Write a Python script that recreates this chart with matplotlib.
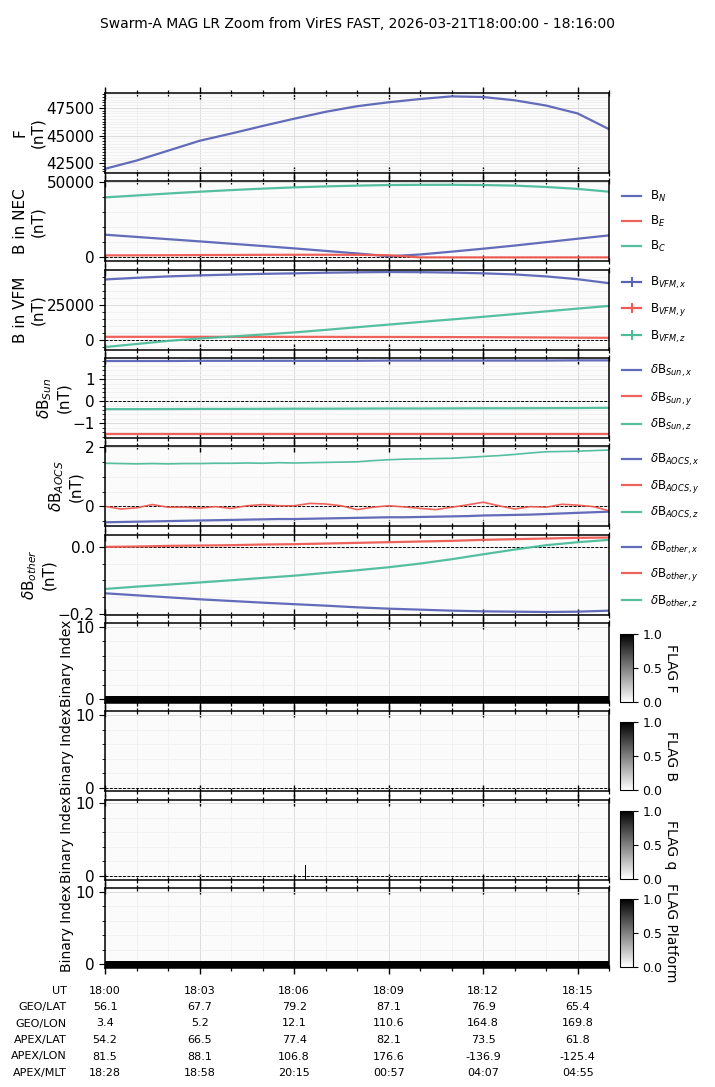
import numpy as np
import matplotlib
matplotlib.use("Agg")
import matplotlib.pyplot as plt
import matplotlib.dates as mdates
from matplotlib.ticker import MultipleLocator
from matplotlib.lines import Line2D
from matplotlib.transforms import blended_transform_factory

DAY = "2026-03-21T"
T0, T1 = "18:00:00", "18:16:00"

# sample times for the smooth series (one per minute)
t_min = ["18:%02d:00" % m for m in range(17)]

F = [41994, 42738, 43631, 44524, 45178, 45863, 46518, 47143, 47649,
     48006, 48300, 48539, 48480, 48184, 47708, 46994, 45565]

B_N = [14797, 13300, 11800, 10313, 8750, 7200, 5605, 3900, 2200,
       300, 1500, 3400, 5381, 7500, 9800, 12100, 14349]
B_E = [900, 950, 1000, 1100, 1150, 1250, 1300, 1300, 1250,
       1000, -450, -450, -450, -450, -450, -450, -450]
B_C = [39908, 41200, 42500, 43719, 44800, 45800, 46634, 47300, 47800,
       48203, 48350, 48380, 48203, 47800, 46900, 45600, 43719]

B_VFM_x = [43032, 44200, 45200, 45916, 46500, 47000, 47359, 47800, 48100,
           48320, 48200, 47900, 47359, 46600, 45200, 43200, 40387]
B_VFM_y = [2404, 2404, 2404, 2404, 2380, 2380, 2380, 2380, 2300,
           2300, 2250, 2200, 2150, 2050, 1950, 1800, 1683]
B_VFM_z = [-4808, -2700, -481, 1202, 2600, 4000, 5529, 7300, 9200,
           11058, 12900, 14700, 16588, 18500, 20434, 22400, 24280]

dB_Sun_x = [1.82, 1.82, 1.82, 1.83, 1.83, 1.83, 1.83, 1.83, 1.83,
            1.84, 1.84, 1.84, 1.84, 1.84, 1.84, 1.85, 1.85]
dB_Sun_y = [-1.47] * 17
dB_Sun_z = [-0.36, -0.36, -0.355, -0.35, -0.35, -0.345, -0.34, -0.34, -0.335,
            -0.33, -0.33, -0.325, -0.32, -0.32, -0.315, -0.31, -0.30]

dB_other_x = [-0.139, -0.145, -0.151, -0.157, -0.162, -0.167, -0.1716, -0.176, -0.181,
              -0.185, -0.188, -0.191, -0.193, -0.194, -0.195, -0.194, -0.191]
dB_other_y = [0.0, 0.001, 0.003, 0.004, 0.005, 0.007, 0.008, 0.010, 0.012,
              0.014, 0.016, 0.018, 0.021, 0.023, 0.025, 0.027, 0.028]
dB_other_z = [-0.126, -0.119, -0.113, -0.1066, -0.100, -0.093, -0.0863, -0.078, -0.070,
              -0.061, -0.050, -0.037, -0.0223, -0.008, 0.005, 0.014, 0.021]

# AOCS series are noisy, read every half minute
t_half = ["18:%02d:%02d" % (s // 60, s % 60) for s in range(0, 961, 30)]
dB_AOCS_x = [-0.54, -0.53, -0.52, -0.51, -0.50, -0.49, -0.48, -0.47, -0.46, -0.45, -0.44,
             -0.43, -0.43, -0.42, -0.41, -0.40, -0.39, -0.38, -0.37, -0.37, -0.36, -0.35,
             -0.34, -0.33, -0.31, -0.30, -0.29, -0.28, -0.26, -0.24, -0.22, -0.20, -0.18]
dB_AOCS_y = [0.00, -0.09, -0.05, 0.06, -0.03, -0.03, -0.06, -0.01, -0.07, 0.02, 0.06,
             0.02, 0.02, 0.10, 0.08, 0.02, -0.11, -0.03, 0.02, -0.02, -0.07, -0.11,
             -0.03, 0.05, 0.14, 0.02, -0.09, -0.01, -0.03, 0.07, 0.04, -0.01, -0.15]
dB_AOCS_z = [1.46, 1.45, 1.44, 1.45, 1.44, 1.45, 1.45, 1.46, 1.46, 1.47, 1.46,
             1.48, 1.47, 1.48, 1.49, 1.50, 1.51, 1.55, 1.58, 1.60, 1.61, 1.62,
             1.63, 1.66, 1.69, 1.72, 1.76, 1.81, 1.85, 1.86, 1.87, 1.89, 1.91]

# flags as piecewise-constant segments: edges and values
flag_F_edges = ["18:00:00", "18:16:00"]
flag_F = [1]
flag_B_edges = ["18:00:00", "18:16:00"]
flag_B = [0]
flag_q_edges = ["18:00:00", "18:06:20", "18:06:21", "18:16:00"]
flag_q = [0, 3, 0]
flag_Pl_edges = ["18:00:00", "18:16:00"]
flag_Pl = [1]

# ephemeris table
tab_rows = ["UT", "GEO/LAT", "GEO/LON", "APEX/LAT", "APEX/LON", "APEX/MLT"]
tab_times = ["18:00:00", "18:03:00", "18:06:00", "18:09:00", "18:12:00", "18:15:00"]
tab_vals = [
    ["18:00", "18:03", "18:06", "18:09", "18:12", "18:15"],
    ["56.1", "67.7", "79.2", "87.1", "76.9", "65.4"],
    ["3.4", "5.2", "12.1", "110.6", "164.8", "169.8"],
    ["54.2", "66.5", "77.4", "82.1", "73.5", "61.8"],
    ["81.5", "88.1", "106.8", "176.6", "-136.9", "-125.4"],
    ["18:28", "18:58", "20:15", "00:57", "04:07", "04:55"],
]

C_X, C_Y, C_Z = "#5a64b6", "#ef5a52", "#4dbc9b"


def tt(lst):
    return np.array([np.datetime64(DAY + s) for s in lst])


plt.rcParams["font.size"] = 11
plt.rcParams["axes.labelpad"] = 1.0
fig = plt.figure(figsize=(7.15, 10.87), dpi=100)
gs = fig.add_gridspec(10, 1, left=0.147, right=0.852, top=0.9144, bottom=0.1095, hspace=0.104)
axs = [fig.add_subplot(gs[i]) for i in range(10)]
fig.suptitle("Swarm-A MAG LR Zoom from VirES FAST, 2026-03-21T18:00:00 - 18:16:00",
             y=0.984, fontsize=10)

tm = tt(t_min)
th = tt(t_half)
lw = 1.6


def legend(ax, labels, handles=None):
    kw = dict(loc="center left", bbox_to_anchor=(1.0, 0.5), frameon=False,
              fontsize=8.5, labelspacing=0.85, handlelength=1.6, borderaxespad=0.7)
    if handles is None:
        ax.legend(**kw)
    else:
        ax.legend(handles, labels, **kw)


# F
ax = axs[0]
ax.plot(tm, F, color=C_X, lw=lw, alpha=0.95)
ax.set_ylabel("F\n(nT)")
ax.set_ylim(41607, 48839)
ax.yaxis.set_major_locator(MultipleLocator(2500))
ax.yaxis.set_minor_locator(MultipleLocator(250))

# NEC
ax = axs[1]
ax.plot(tm, B_N, color=C_X, lw=lw, alpha=0.95, label="B$_N$")
ax.plot(tm, B_E, color=C_Y, lw=lw, alpha=0.95, label="B$_E$")
ax.plot(tm, B_C, color=C_Z, lw=lw, alpha=0.95, label="B$_C$")
ax.set_ylabel("B in NEC\n(nT)")
ax.set_ylim(-3139, 50673)
ax.yaxis.set_major_locator(MultipleLocator(50000))
ax.yaxis.set_minor_locator(MultipleLocator(10000))
legend(ax, None)

# VFM
ax = axs[2]
vfm = [(B_VFM_x, C_X, "B$_{VFM,x}$"), (B_VFM_y, C_Y, "B$_{VFM,y}$"), (B_VFM_z, C_Z, "B$_{VFM,z}$")]
hs = []
for vals, c, lab in vfm:
    ax.plot(tm, vals, color=c, lw=lw, alpha=0.95)
    hs.append(Line2D([], [], color=c, lw=lw, marker="|", markersize=7, markeredgewidth=1.4))
ax.set_ylabel("B in VFM\n(nT)")
ax.set_ylim(-6731, 49950)
ax.yaxis.set_major_locator(MultipleLocator(25000))
ax.yaxis.set_minor_locator(MultipleLocator(5000))
legend(ax, [v[2] for v in vfm], hs)

# Sun
ax = axs[3]
ax.plot(tm, dB_Sun_x, color=C_X, lw=lw, alpha=0.95, label="$\\delta$B$_{Sun,x}$")
ax.plot(tm, dB_Sun_y, color=C_Y, lw=lw, alpha=0.95, label="$\\delta$B$_{Sun,y}$")
ax.plot(tm, dB_Sun_z, color=C_Z, lw=lw, alpha=0.95, label="$\\delta$B$_{Sun,z}$")
ax.set_ylabel("$\\delta$B$_{Sun}$\n(nT)")
ax.set_ylim(-1.667, 1.955)
ax.yaxis.set_major_locator(MultipleLocator(1))
ax.yaxis.set_minor_locator(MultipleLocator(0.2))
legend(ax, None)

# AOCS
ax = axs[4]
ax.plot(th, dB_AOCS_x, color=C_X, lw=lw, alpha=0.95, label="$\\delta$B$_{AOCS,x}$")
ax.plot(th, dB_AOCS_y, color=C_Y, lw=1.2, alpha=0.95, label="$\\delta$B$_{AOCS,y}$")
ax.plot(th, dB_AOCS_z, color=C_Z, lw=1.2, alpha=0.95, label="$\\delta$B$_{AOCS,z}$")
ax.set_ylabel("$\\delta$B$_{AOCS}$\n(nT)")
ax.set_ylim(-0.678, 2.034)
ax.yaxis.set_major_locator(MultipleLocator(2))
ax.yaxis.set_minor_locator(MultipleLocator(0.5))
legend(ax, None)
for h in ax.get_legend().get_lines():
    h.set_linewidth(lw)

# other
ax = axs[5]
ax.plot(tm, dB_other_x, color=C_X, lw=lw, alpha=0.95, label="$\\delta$B$_{other,x}$")
ax.plot(tm, dB_other_y, color=C_Y, lw=lw, alpha=0.95, label="$\\delta$B$_{other,y}$")
ax.plot(tm, dB_other_z, color=C_Z, lw=lw, alpha=0.95, label="$\\delta$B$_{other,z}$")
ax.set_ylabel("$\\delta$B$_{other}$\n(nT)")
ax.set_ylim(-0.203, 0.0365)
ax.yaxis.set_major_locator(MultipleLocator(0.2))
ax.yaxis.set_minor_locator(MultipleLocator(0.05))
legend(ax, None)

# flags as binary index images
flags = [(flag_F_edges, flag_F, "FLAG F"), (flag_B_edges, flag_B, "FLAG B"),
         (flag_q_edges, flag_q, "FLAG q"), (flag_Pl_edges, flag_Pl, "FLAG Platform")]
nbits = 11
for ax, (edges, vals, name) in zip(axs[6:], flags):
    xe = mdates.date2num(tt(edges))
    ye = np.arange(nbits + 1) - 0.5
    bits = np.array([[(v >> b) & 1 for v in vals] for b in range(nbits)], dtype=float)
    bits = np.ma.masked_equal(bits, 0)
    ax.pcolormesh(xe, ye, bits, cmap="gray_r", vmin=0, vmax=1, shading="flat",
                  edgecolors="face", linewidth=0.6)
    ax.set_ylim(-0.5, 10.5)
    ax.yaxis.set_major_locator(MultipleLocator(10))
    ax.yaxis.set_minor_locator(MultipleLocator(2))
    ax.set_ylabel("Binary Index", fontsize=10)
    pos = ax.get_position()
    cax = fig.add_axes([0.867, pos.y0 + 0.001, 0.018, pos.height * 0.85])
    sm = plt.cm.ScalarMappable(cmap="gray_r", norm=plt.Normalize(0, 1))
    cb = fig.colorbar(sm, cax=cax)
    cb.set_ticks([0.0, 0.5, 1.0])
    cb.ax.tick_params(labelsize=9, length=3.5)
    cb.set_label(name, rotation=270, labelpad=14, fontsize=10)
    cb.ax.yaxis.set_label_coords(4.55, 0.5)

# common styling
xl = mdates.date2num(tt([T0, T1]))
for i, ax in enumerate(axs):
    ax.set_facecolor("#fbfbfb")
    ax.set_xlim(xl[0], xl[1])
    ax.xaxis.set_major_locator(mdates.MinuteLocator(byminute=range(0, 60, 3)))
    ax.xaxis.set_minor_locator(mdates.MinuteLocator())
    ax.tick_params(axis="x", which="major", direction="inout", length=9, width=1,
                   top=True, bottom=True, labelbottom=False)
    ax.tick_params(axis="x", which="minor", direction="inout", length=5, width=0.9,
                   top=True, bottom=True)
    ax.tick_params(axis="y", which="major", length=4, labelsize=11)
    ax.tick_params(axis="y", which="minor", length=2)
    ax.grid(True, which="major", color="#dcdcdc", lw=0.7)
    ax.grid(True, which="minor", color="#f0f0f0", lw=0.6)
    ax.set_axisbelow(True)
    for s in ax.spines.values():
        s.set_linewidth(1.1)
    if i > 0:
        ax.axhline(0, color="black", lw=0.7, ls="--", dashes=(3, 1.5), zorder=1.5)

# ephemeris table under the last panel
tr = blended_transform_factory(axs[-1].transData, fig.transFigure)
tx = mdates.date2num(tt(tab_times))
for r, (name, row) in enumerate(zip(tab_rows, tab_vals)):
    y = 1 - (990.5 + r * 16.5) / 1087
    fig.text(0.093, y, name, ha="right", va="center", fontsize=8)
    for x, v in zip(tx, row):
        fig.text(x, y, v, transform=tr, ha="center", va="center", fontsize=8)

fig.savefig("out.png", dpi=100)
